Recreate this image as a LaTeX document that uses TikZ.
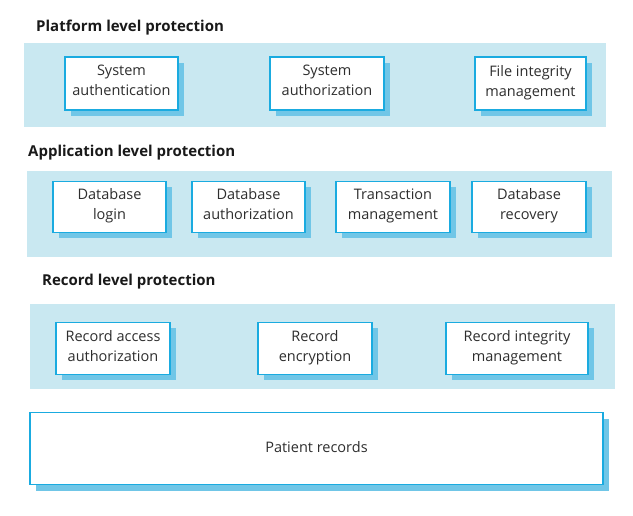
\documentclass[tikz,border=0pt]{standalone}
\usepackage{fontspec}
\setmainfont{Open Sans}
\usetikzlibrary{shadows}
\definecolor{panelblue}{HTML}{C9E8F1}
\definecolor{edgeblue}{HTML}{1AABE0}
\definecolor{shadowblue}{HTML}{70C6E7}
\definecolor{textgray}{HTML}{2E2E2E}
\begin{document}
\begin{tikzpicture}[x=1pt,y=-1pt,
  panel/.style={fill=panelblue, draw=none, inner sep=0pt},
  box/.style={draw=edgeblue, line width=1.6pt, fill=white, inner sep=0pt,
    align=center, text=textgray, minimum height=52pt,
    font=\fontsize{14.5}{20}\selectfont,
    execute at begin node=\strut, execute at end node=\strut,
    drop shadow={shadow xshift=6pt, shadow yshift=-6pt, fill=shadowblue, opacity=1}},
  title/.style={anchor=base west, inner sep=0pt, text=black!90,
    font=\bfseries\fontsize{15}{18}\selectfont}]
\useasboundingbox (0,0) rectangle (633,516);
% panels
\node[panel, minimum width=582pt, minimum height=84pt] (p1) at (315,85) {};
\node[panel, minimum width=585pt, minimum height=86pt] (p2) at (319.5,214) {};
\node[panel, minimum width=585pt, minimum height=85pt] (p3) at (322.5,346.5) {};
% titles
\node[title] (t1) at (36,32) {Platform level protection};
\node[title] (t2) at (28,157) {Application level protection};
\node[title] (t3) at (42,286) {Record level protection};
% platform level
\node[box, minimum width=113pt, minimum height=53pt] (sa) at (121.5,83.5) {System\\authentication};
\node[box, minimum width=114pt, minimum height=53pt] (sz) at (327,83.5) {System\\authorization};
\node[box, minimum width=111pt, minimum height=53pt] (fi) at (530.5,83.5) {File integrity\\management};
% application level
\node[box, minimum width=113pt, minimum height=51pt] (dl) at (109.5,207) {Database\\login};
\node[box, minimum width=113pt, minimum height=51pt] (da) at (248.5,207) {Database\\authorization};
\node[box, minimum width=114pt, minimum height=51pt] (tm) at (393,207) {Transaction\\management};
\node[box, minimum width=114pt, minimum height=51pt] (dr) at (529,207) {Database\\recovery};
% record level
\node[box, minimum width=114pt] (ra) at (113,348.5) {Record access\\authorization};
\node[box, minimum width=114pt] (re) at (315,348.5) {Record\\encryption};
\node[box, minimum width=142pt] (ri) at (517,348.5) {Record integrity\\management};
% patient records
\node[box, minimum width=573pt, minimum height=72pt] (pr) at (316.5,448.5) {Patient records};
\end{tikzpicture}
\end{document}
